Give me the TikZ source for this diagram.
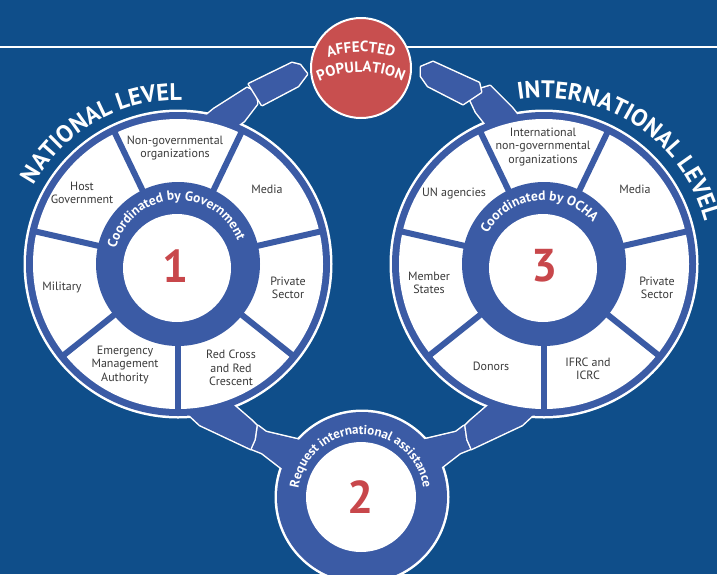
\documentclass[tikz,border=0pt]{standalone}
\usepackage{fontspec}
\setmainfont{PT Sans}
\setsansfont{PT Sans}
\usetikzlibrary{decorations.text}
\definecolor{bg}{HTML}{0F4E8A}
\definecolor{ring}{HTML}{3B5BA5}
\definecolor{redc}{HTML}{C84F4F}
\definecolor{lbl}{HTML}{3A3A3A}
\definecolor{numred}{HTML}{C8474B}
\def\pTLa{(203,118) -- (214,109) -- (247,88) -- (256,92) -- (257,104) -- (244,121) -- (236,127) -- cycle}
\def\pTRb{(467,93) -- (490,86) -- (512,108) -- (520,118) -- (487,126) -- (476,112) -- cycle}
\def\pBLa{(230,402) -- (252,421) -- (258,427) -- (261,440) -- (251,449) -- (200,425) -- (186,412) -- cycle}
\def\pBRa{(492,402) -- (470,421) -- (464,427) -- (461,440) -- (471,449) -- (522,425) -- (536,412) -- cycle}
\def\pTLb{(249,84) -- (292,63) -- (300,65) -- (307,74) -- (298,86) -- (262,105) -- cycle}
\def\pTRa{(421,67) -- (433,62) -- (479,83) -- (481,92) -- (463,104) -- (428,86) -- (421,76) -- cycle}
\def\pBLb{(258,426) -- (266,432) -- (300,440) -- (284,470) -- (262,453) -- (252,449) -- (256,440) -- cycle}
\def\pBRb{(464,426) -- (456,432) -- (422,440) -- (438,470) -- (460,453) -- (470,449) -- (466,440) -- cycle}
\begin{document}
\begin{tikzpicture}[x=1pt,y=-1pt,
  lab/.style={font=\fontsize{12}{13.3}\selectfont, text=lbl, align=center, inner sep=0pt},
  num/.style={font=\fontsize{46}{46}\selectfont\bfseries, text=numred, inner sep=0pt},
  bandw/.style={fill=white, draw=white, line width=3pt, line join=round},
  bandb/.style={fill=ring},
  curvetext/.style={decorate, decoration={text along path, text align=center, text={#1}}},
]
\useasboundingbox (0,0) rectangle (717,574);
\fill[bg] (0,0) rectangle (717,574);
\draw[white, line width=1.8pt] (0,47) -- (717,47);
% group 1 : wheels and their bands
\fill[white] (178,264) circle (154.5);
\fill[white] (544,264) circle (154.5);
\path[bandw] \pTLa; \path[bandw] \pTRb; \path[bandw] \pBLa; \path[bandw] \pBRa;
\fill[ring] (178,264) circle (152);
\fill[ring] (544,264) circle (152);
\path[bandb] \pTLa; \path[bandb] \pTRb; \path[bandb] \pBLa; \path[bandb] \pBRa;
% group 2 : circle 2 and free bands
\fill[white] (362,497) circle (87.5);
\path[bandw] \pTLb; \path[bandw] \pTRa; \path[bandw] \pBLb; \path[bandw] \pBRb;
\fill[ring] (362,497) circle (85);
\path[bandb] \pTLb; \path[bandb] \pTRa; \path[bandb] \pBLb; \path[bandb] \pBRb;
% affected population
\node[circle, minimum size=100pt, fill=redc, draw=white, line width=2pt, inner sep=0pt] (aff) at (361,68) {};
% wheel interiors
\foreach \cx/\cy in {178/264, 544/264}{
\begin{scope}[shift={(\cx,\cy)}]
  \fill[white] (0,0) circle (145);
  \foreach \a in {90,38.57,-12.86,-64.29,-115.71,-167.14,141.43}
    \draw[ring, line width=6pt] (0,0) -- (\a:148);
  \fill[ring] (0,0) circle (82);
  \fill[white] (-1,4) circle (54);
\end{scope}}
\fill[white] (361,497) circle (55);
% numbers
\node[num] (n1) at (176,266) {1};
\node[num] (n3) at (545,266) {3};
\node[num] (n2) at (361,497) {2};
% labels left
\node[lab] (l1) at (175,148) {Non-governmental\\organizations};
\node[lab] (l2) at (82,193) {Host\\Government};
\node[lab] (l3) at (267,189) {Media};
\node[lab] (l4) at (62,287) {Military};
\node[lab] (l5) at (288,288) {Private\\Sector};
\node[lab] (l6) at (125,365) {Emergency\\Management\\Authority};
\node[lab] (l7) at (231,368) {Red Cross\\and Red\\Crescent};
% labels right
\node[lab] (r1) at (543,147) {International\\non-governmental\\organizations};
\node[lab] (r2) at (454,193) {UN agencies};
\node[lab] (r3) at (635,189) {Media};
\node[lab] (r4) at (429,283) {Member\\States};
\node[lab] (r5) at (657,288) {Private\\Sector};
\node[lab] (r6) at (491,366) {Donors};
\node[lab] (r7) at (588,369) {IFRC and\\ICRC};
% curved texts
\path[curvetext={|\fontsize{13.5}{13.5}\selectfont\bfseries\color{white}|Coordinated by Government}]
  (178,264) ++(-185:64) arc (-185:-2:64);
\path[curvetext={|\fontsize{13.5}{13.5}\selectfont\bfseries\color{white}|Coordinated by OCHA}]
  (544,264) ++(-185:64) arc (-185:-7:64);
\path[curvetext={|\fontsize{13}{13}\selectfont\bfseries\color{white}|Request international assistance}]
  (361,497) ++(-185:63) arc (-185:5:63);
\path[curvetext={|\fontsize{24}{24}\selectfont\bfseries\color{white}|NATIONAL LEVEL}]
  (178,264) ++(-182:164) arc (-182:-58:164);
\path[curvetext={|\fontsize{24}{24}\selectfont\bfseries\color{white}|INTERNATIONAL LEVEL}]
  (544,264) ++(-127:166) arc (-127:13:166);
\path[curvetext={|\fontsize{15}{15}\selectfont\bfseries\color{white}|AFFECTED}]
  (361,160) ++(-120:108) arc (-120:-60:108);
\path[curvetext={|\fontsize{15}{15}\selectfont\bfseries\color{white}|POPULATION}]
  (361,172) ++(-125:100) arc (-125:-55:100);
\end{tikzpicture}
\end{document}
